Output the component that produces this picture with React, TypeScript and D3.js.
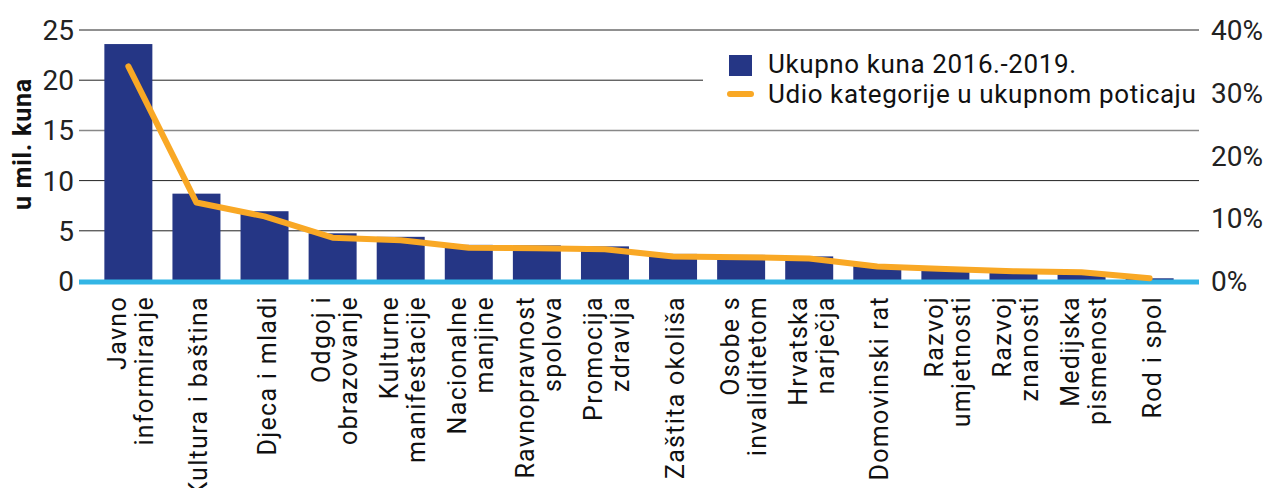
import React from 'react';
import * as d3 from 'd3';

// categories, split into label lines
const categories = [
  'Javno informiranje', 'Kultura i baština', 'Djeca i mladi', 'Odgoj i obrazovanje',
  'Kulturne manifestacije', 'Nacionalne manjine', 'Ravnopravnost spolova', 'Promocija zdravlja',
  'Zaštita okoliša', 'Osobe s invaliditetom', 'Hrvatska narječja', 'Domovinski rat',
  'Razvoj umjetnosti', 'Razvoj znanosti', 'Medijska pismenost', 'Rod i spol',
];
const labelLines = [
  ['Javno', 'informiranje'], ['Kultura i baština'], ['Djeca i mladi'], ['Odgoj i', 'obrazovanje'],
  ['Kulturne', 'manifestacije'], ['Nacionalne', 'manjine'], ['Ravnopravnost', 'spolova'], ['Promocija', 'zdravlja'],
  ['Zaštita okoliša'], ['Osobe s', 'invaliditetom'], ['Hrvatska', 'narječja'], ['Domovinski rat'],
  ['Razvoj', 'umjetnosti'], ['Razvoj', 'znanosti'], ['Medijska', 'pismenost'], ['Rod i spol'],
];
// u mil. kuna
const totals = [23.6, 8.7, 6.95, 4.75, 4.4, 3.6, 3.55, 3.45, 2.7, 2.6, 2.45, 1.5, 1.1, 0.8, 0.9, 0.27];
// udio kategorije (%)
const shares = [34.2, 12.5, 10.3, 6.9, 6.5, 5.3, 5.2, 5.05, 3.9, 3.8, 3.6, 2.3, 1.9, 1.55, 1.4, 0.45];

const leftTicks = [0, 5, 10, 15, 20, 25];
const rightTicks = [0, 10, 20, 30, 40];

const W = 1266;
const H = 488;
const BAR = '#253685';
const LINE = '#F9A825';
const BASE = '#33B5E5';
const FONT = 'Roboto, sans-serif';

export default function App() {
  const x = d3.scaleBand<string>()
    .domain(categories)
    .range([79, 1199])
    .paddingInner(0.295)
    .paddingOuter(0.3725);
  const y = d3.scaleLinear().domain([0, 25]).range([281, 30]);
  const y2 = d3.scaleLinear().domain([0, 40]).range([281, 30]);

  const line = d3.line<number>()
    .x((_, i) => x(categories[i])! + x.bandwidth() / 2)
    .y(d => y2(d));

  return (
    <svg width={W} height={H} style={{ position: 'absolute', left: 0, top: 0, background: '#fff' }} fontFamily={FONT}>
      {/* gridlines */}
      {leftTicks.filter(t => t > 0).map(t => (
        <line key={t} x1={79} x2={1199} y1={y(t)} y2={y(t)}
          stroke={t === 15 ? '#888' : '#222'} strokeWidth={t === 15 ? 1.5 : 1} />
      ))}
      {/* left axis labels */}
      {leftTicks.map(t => (
        <text key={t} x={74} y={y(t)} dy="0.36em" textAnchor="end" fontSize={28} fill="#222">{t}</text>
      ))}
      {/* right axis labels */}
      {rightTicks.map(t => (
        <text key={t} x={1211} y={y2(t)} dy="0.36em" textAnchor="start" fontSize={28} fill="#222">{t}%</text>
      ))}
      <text transform={`translate(31,144) rotate(-90)`} textAnchor="middle" fontSize={25} letterSpacing={0.8} fontWeight="bold" fill="#111">u mil. kuna</text>

      {/* bars */}
      {totals.map((v, i) => (
        <rect key={i} x={x(categories[i])} y={y(v)} width={x.bandwidth()} height={y(0) - y(v)} fill={BAR} />
      ))}
      {/* baseline */}
      <line x1={79} x2={1199} y1={y(0) + 1} y2={y(0) + 1} stroke={BASE} strokeWidth={5} />

      {/* legend */}
      <rect x={703} y={42} width={496} height={76} fill="#fff" />
      <rect x={729} y={55} width={23} height={21} fill={BAR} />
      <text x={768} y={73} fontSize={26} letterSpacing={0.6} fill="#111">Ukupno kuna 2016.-2019.</text>
      <line x1={730} x2={751} y1={94} y2={94} stroke={LINE} strokeWidth={6} strokeLinecap="round" />
      <text x={768} y={103} fontSize={26} letterSpacing={0.6} fill="#111">Udio kategorije u ukupnom poticaju</text>

      {/* share line */}
      <path d={line(shares) || ''} fill="none" stroke={LINE} strokeWidth={6} strokeLinejoin="round" strokeLinecap="round" />

      {/* category labels */}
      {labelLines.map((lines, i) => {
        const cx = x(categories[i])! + x.bandwidth() / 2 + 2;
        return (
          <text key={i} transform={`translate(${cx},296) rotate(-90)`} textAnchor="end" fontSize={25} letterSpacing={1.3} fill="#111">
            {lines.map((l, j) => (
              <tspan key={j} x={0} y={(j - (lines.length - 1) / 2) * 27} dy="0.36em">{l}</tspan>
            ))}
          </text>
        );
      })}
    </svg>
  );
}
